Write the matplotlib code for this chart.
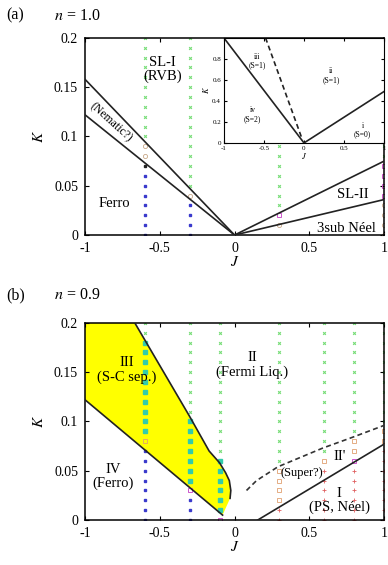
import matplotlib.pyplot as plt
import numpy as np

plt.rcParams['font.family'] = ['Liberation Serif', 'DejaVu Serif']
plt.rcParams['mathtext.fontset'] = 'stix'

# K grid of the simulated points (0 .. 0.2)
K_grid = [0.00, 0.01, 0.02, 0.03, 0.04, 0.05, 0.06, 0.07, 0.08, 0.09, 0.10,
          0.11, 0.12, 0.13, 0.14, 0.15, 0.16, 0.17, 0.18, 0.19, 0.20]

# phase codes per column, one char per K_grid value
# g: green x, b: blue sq, o: orange open, m: magenta open, r: red +, t: teal sq, k: black, .: none
a_cols_J = [-0.6, -0.3, 0.3, 1.0]
a_cols_code = ["bbbbbbbkooggggggggggg",
               "bbbbogggggggggggggggg",
               ".omgggggggggggggggggg",
               "oooommmmggggggggggggg"]

b_cols_J = [-0.6, -0.3, -0.1, 0.3, 0.6, 0.8, 1.0]
b_cols_code = ["bbbbbbbbottttttttttgg",
               "bbbmtttttttgggggggggg",
               "mttttttgggggggggggggg",
               "rrooooggggggggggggggg",
               "rrrrrrogggggggggggggg",
               "rrrrrrmoogggggggggggg",
               "rrrrrrrrooggggggggggg"]

# panel (a) boundaries
a_up_J = [-1, 0]; a_up_K = [0.158, 0.0]
a_lo_J = [-1, 0]; a_lo_K = [0.122, 0.0]
a_r1_J = [0, 1]; a_r1_K = [0.0, 0.075]
a_r2_J = [0, 1]; a_r2_K = [0.0, 0.036]

# inset boundaries
in_s1_J = [-1, 0]; in_s1_K = [1.0, 0.0]
in_d_J = [-0.48, -0.02]; in_d_K = [1.0, 0.03]
in_s2_J = [0, 1]; in_s2_K = [0.0, 0.49]

# panel (b) boundaries
b_lo_J = [-1, -0.08]; b_lo_K = [0.122, 0.005]
b_cu_J = [-0.667, -0.3, -0.17, -0.1, -0.06, -0.035, -0.025, -0.03]
b_cu_K = [0.2, 0.105, 0.07, 0.058, 0.048, 0.04, 0.03, 0.022]
b_dash_J = [0.08, 0.147, 0.29, 0.59, 0.79, 1.0]
b_dash_K = [0.030, 0.040, 0.054, 0.073, 0.084, 0.096]
b_line_J = [0.155, 1.0]; b_line_K = [0.0, 0.077]

styles = {
    'g': dict(marker='x', color='#77dd77', ms=2.0, mew=0.8, ls='none'),
    'b': dict(marker='s', color='#3a3acc', ms=1.8, ls='none'),
    'o': dict(marker='s', mfc='none', mec='#e0a070', ms=2.8, mew=0.6, ls='none'),
    'c': dict(marker='o', mfc='none', mec='#c8a888', ms=3.0, mew=0.6, ls='none'),
    'm': dict(marker='s', mfc='none', mec='#cc55cc', ms=2.8, mew=0.7, ls='none'),
    'r': dict(marker='+', color='#e06060', ms=2.6, mew=0.6, ls='none'),
    't': dict(marker='s', color='#33ccaa', ms=2.2, ls='none'),
    'k': dict(marker='s', color='#222222', ms=1.8, ls='none'),
}


def draw_points(ax, cols_J, cols_code, orange_key):
    for J, code in zip(cols_J, cols_code):
        for key in set(code) - {'.'}:
            ks = [K for K, c in zip(K_grid, code) if c == key]
            st = styles[orange_key if key == 'o' else key]
            ax.plot([J] * len(ks), ks, zorder=2, **st)


def style_axes(ax):
    ax.set_xlim(-1, 1)
    ax.set_ylim(0, 0.2)
    ax.set_xticks([-1, -0.5, 0, 0.5, 1])
    ax.set_xticklabels(['-1', '-0.5', '0', '0.5', '1'])
    ax.set_yticks([0, 0.05, 0.1, 0.15, 0.2])
    ax.set_yticklabels(['0', '0.05', '0.1', '0.15', '0.2'])
    ax.tick_params(direction='in', top=True, right=True, labelsize=10, length=3, pad=5)
    for s in ax.spines.values():
        s.set_linewidth(1.1)
    ax.set_xlabel('$J$', fontsize=11, labelpad=0)
    ax.set_ylabel(r'$K$', fontsize=11, labelpad=6, rotation=90)


fig = plt.figure(figsize=(3.88, 5.65), dpi=100)

# ---------- panel (a)
ax1 = fig.add_axes([0.219, 0.584, 0.771, 0.349])
style_axes(ax1)
draw_points(ax1, a_cols_J, a_cols_code, 'c')
for Js, Ks in [(a_up_J, a_up_K), (a_lo_J, a_lo_K), (a_r1_J, a_r1_K), (a_r2_J, a_r2_K)]:
    ax1.plot(Js, Ks, color='#222222', lw=1.2, zorder=3)
ax1.text(-0.48, 0.168, 'SL-I\n(RVB)', ha='center', va='center', fontsize=10.5, linespacing=1.1)
ax1.text(-0.83, 0.114, '(Nematic?)', ha='center', va='center', fontsize=8.5, rotation=-42)
ax1.text(-0.8, 0.032, 'Ferro', ha='center', va='center', fontsize=10.5)
ax1.text(0.79, 0.041, 'SL-II', ha='center', va='center', fontsize=10.5)
ax1.text(0.75, 0.007, '3sub Néel', ha='center', va='center', fontsize=10.5)

# inset
axi = fig.add_axes([0.577, 0.747, 0.413, 0.186], zorder=5)
axi.set_xlim(-1, 1)
axi.set_ylim(0, 1.0)
axi.set_xticks([-1, -0.5, 0, 0.5, 1])
axi.set_xticklabels(['-1', '-0.5', '0', '0.5', '1'])
axi.set_yticks([0, 0.2, 0.4, 0.6, 0.8])
axi.set_yticklabels(['0', '0.2', '0.4', '0.6', '0.8'])
axi.tick_params(direction='in', top=True, right=True, labelsize=5, length=2, pad=2)
axi.set_xlabel('$J$', fontsize=6, labelpad=0)
axi.set_ylabel('$K$', fontsize=6, labelpad=1)
axi.plot(in_s1_J, in_s1_K, color='#222222', lw=1.2)
axi.plot(in_d_J, in_d_K, color='#222222', lw=1.2, ls=(0, (3, 2)))
axi.plot(in_s2_J, in_s2_K, color='#222222', lw=1.2)
axi.text(-0.58, 0.78, 'iii\n(S=1)', ha='center', va='center', fontsize=5.5, linespacing=1.1)
axi.text(0.34, 0.64, 'ii\n(S=1)', ha='center', va='center', fontsize=5.5, linespacing=1.1)
axi.text(-0.64, 0.27, 'iv\n(S=2)', ha='center', va='center', fontsize=5.5, linespacing=1.1)
axi.text(0.73, 0.12, 'i\n(S=0)', ha='center', va='center', fontsize=5.5, linespacing=1.1)

fig.text(0.015, 0.972, '(a)', fontsize=11.5, va='center')
fig.text(0.14, 0.972, '$n$ = 1.0', fontsize=11.5, va='center')

# ---------- panel (b)
ax2 = fig.add_axes([0.219, 0.0796, 0.771, 0.349])
style_axes(ax2)
poly_J = [-1, -1] + b_cu_J + b_lo_J[::-1]
poly_K = [b_lo_K[0], 0.2] + b_cu_K + b_lo_K[::-1]
ax2.fill(poly_J, poly_K, color='#ffff00', lw=0, zorder=1)
draw_points(ax2, b_cols_J, b_cols_code, 'o')
ax2.plot(b_lo_J, b_lo_K, color='#222222', lw=1.2, zorder=3)
ax2.plot(b_cu_J, b_cu_K, color='#222222', lw=1.2, zorder=3)
ax2.plot(b_dash_J, b_dash_K, color='#333333', lw=1.2, ls=(0, (3, 2)), zorder=3)
ax2.plot(b_line_J, b_line_K, color='#222222', lw=1.2, zorder=3)
ax2.text(-0.72, 0.152, 'III\n(S-C sep.)', ha='center', va='center', fontsize=10.5, linespacing=1.1)
ax2.text(-0.81, 0.044, 'IV\n(Ferro)', ha='center', va='center', fontsize=10.5, linespacing=1.1)
ax2.text(0.12, 0.157, 'II\n(Fermi Liq.)', ha='center', va='center', fontsize=10.5, linespacing=1.1)
ax2.text(0.7, 0.064, "II'", ha='center', va='center', fontsize=10.5)
ax2.text(0.45, 0.048, '(Super?)', ha='center', va='center', fontsize=9)
ax2.text(0.7, 0.02, 'I\n(PS, Néel)', ha='center', va='center', fontsize=10.5, linespacing=1.1)

fig.text(0.015, 0.477, '(b)', fontsize=11.5, va='center')
fig.text(0.14, 0.477, '$n$ = 0.9', fontsize=11.5, va='center')

fig.savefig('out.png', dpi=100)
